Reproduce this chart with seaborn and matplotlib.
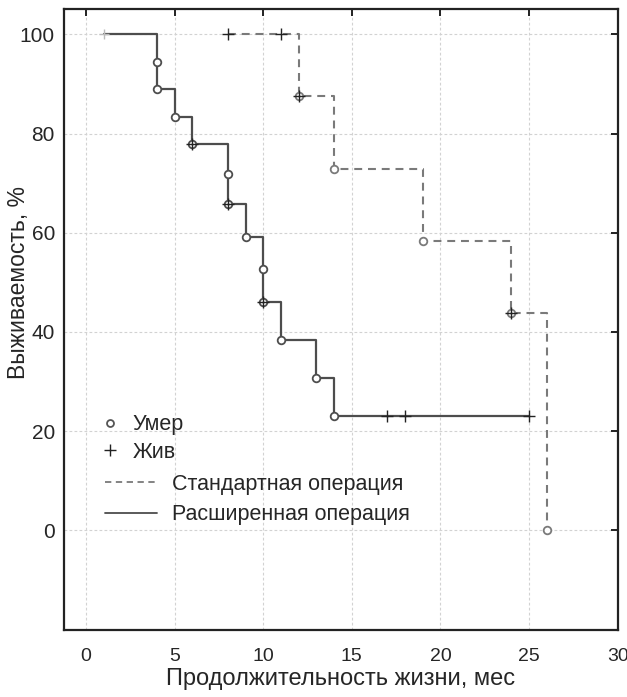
import matplotlib
matplotlib.use("Agg")
import matplotlib.pyplot as plt
from matplotlib.lines import Line2D
import seaborn as sns
import pandas as pd

# ---- data ----
# Extended operation (solid): step points (time, survival %)
ext_time = [1, 4, 5, 6, 8, 9, 10, 11, 13, 14, 25]
ext_surv = [100, 88.9, 83.3, 77.8, 65.8, 59.2, 46.05, 38.4, 30.7, 23.0, 23.0]
ext_dead_time = [4, 4, 5, 6, 8, 8, 9, 10, 10, 11, 13, 14]
ext_dead_surv = [94.4, 88.9, 83.3, 77.8, 71.8, 65.8, 59.2, 52.6, 46.05, 38.4, 30.7, 23.0]
ext_cens_time = [6, 8, 10, 17, 18, 25]
ext_cens_surv = [77.8, 65.8, 46.05, 23.0, 23.0, 23.0]
first_cens_time = [1]
first_cens_surv = [100]

# Standard operation (dashed)
std_time = [8, 12, 14, 19, 24, 26]
std_surv = [100, 87.5, 72.9, 58.3, 43.75, 0]
std_dead_time = [12, 14, 19, 24, 26]
std_dead_surv = [87.5, 72.9, 58.3, 43.75, 0]
std_cens_time = [8, 11, 12, 24]
std_cens_surv = [100, 100, 87.5, 43.75]

x_ticks = [0, 5, 10, 15, 20, 25, 30]
y_ticks = [0, 20, 40, 60, 80, 100]

label_dead = "Умер"
label_alive = "Жив"
label_std = "Стандартная операция"
label_ext = "Расширенная операция"
xlabel = "Продолжительность жизни, мес"
ylabel = "Выживаемость, %"

# ---- style ----
sns.set_style("white")
plt.rcParams["font.family"] = ["Liberation Sans", "DejaVu Sans"]

fig = plt.figure(figsize=(6.27, 6.97), dpi=100)
ax = fig.add_axes([0.102, 0.0966, 0.883, 0.8898])

c_ext = "#4d4d4d"
c_std = "#7a7a7a"

ext_df = pd.DataFrame({"t": ext_time, "s": ext_surv})
std_df = pd.DataFrame({"t": std_time, "s": std_surv})

sns.lineplot(data=ext_df, x="t", y="s", ax=ax, color=c_ext, lw=1.6,
             drawstyle="steps-post", estimator=None, sort=False, zorder=3)
sns.lineplot(data=std_df, x="t", y="s", ax=ax, color=c_std, lw=1.5,
             drawstyle="steps-post", estimator=None, sort=False, zorder=3,
             linestyle=(0, (3.8, 2.8)))

sns.scatterplot(x=ext_dead_time, y=ext_dead_surv, ax=ax, marker="o", s=30,
                facecolor="white", edgecolor=c_ext, linewidth=1.3, zorder=4)
sns.scatterplot(x=std_dead_time, y=std_dead_surv, ax=ax, marker="o", s=30,
                facecolor="white", edgecolor=c_std, linewidth=1.3, zorder=4)
sns.scatterplot(x=ext_cens_time, y=ext_cens_surv, ax=ax, marker="+", s=70,
                color="#222222", linewidth=1.0, zorder=5)
sns.scatterplot(x=std_cens_time, y=std_cens_surv, ax=ax, marker="+", s=70,
                color="#222222", linewidth=1.0, zorder=5)
sns.scatterplot(x=first_cens_time, y=first_cens_surv, ax=ax, marker="+", s=50,
                color="#bbbbbb", linewidth=1.0, zorder=5)

ax.set_xlim(-1.25, 30)
ax.set_ylim(-20, 105)
ax.set_xticks(x_ticks)
ax.set_yticks(y_ticks)
ax.grid(True, color="#d2d2d2", linestyle=(0, (2.5, 2)), lw=0.8)
ax.set_axisbelow(True)
for sp in ax.spines.values():
    sp.set_color("#222222")
    sp.set_linewidth(1.6)
ax.tick_params(direction="in", length=5, width=1.4, color="#222222",
               top=True, right=True, labelsize=15)
ax.tick_params(axis="x", pad=13, labelsize=14)
ax.tick_params(axis="y", pad=6.5)
ax.set_xlabel(xlabel, fontsize=17, labelpad=2)
ax.set_ylabel(ylabel, fontsize=16.5)
ax.yaxis.set_label_coords(-0.062, 0.56)

h1 = [Line2D([], [], marker="o", ls="none", mfc="white", mec="#555555", mew=1.3, ms=5),
      Line2D([], [], marker="+", ls="none", color="#222222", mew=1.0, ms=8)]
leg1 = ax.legend(h1, [label_dead, label_alive], loc="upper left",
                 bbox_to_anchor=(0.063, 0.3475), frameon=False, fontsize=15.5,
                 handlelength=1.0, handletextpad=0.57, labelspacing=0.31,
                 borderpad=0, borderaxespad=0)
ax.add_artist(leg1)
h2 = [Line2D([], [], color=c_std, lw=1.3, ls=(0, (3.5, 2.5))),
      Line2D([], [], color=c_ext, lw=1.3)]
ax.legend(h2, [label_std, label_ext], loc="upper left",
          bbox_to_anchor=(0.074, 0.251), frameon=False, fontsize=15.5,
          handlelength=2.42, handletextpad=0.7, labelspacing=0.43,
          borderpad=0, borderaxespad=0)

fig.savefig("out.png", dpi=100)
